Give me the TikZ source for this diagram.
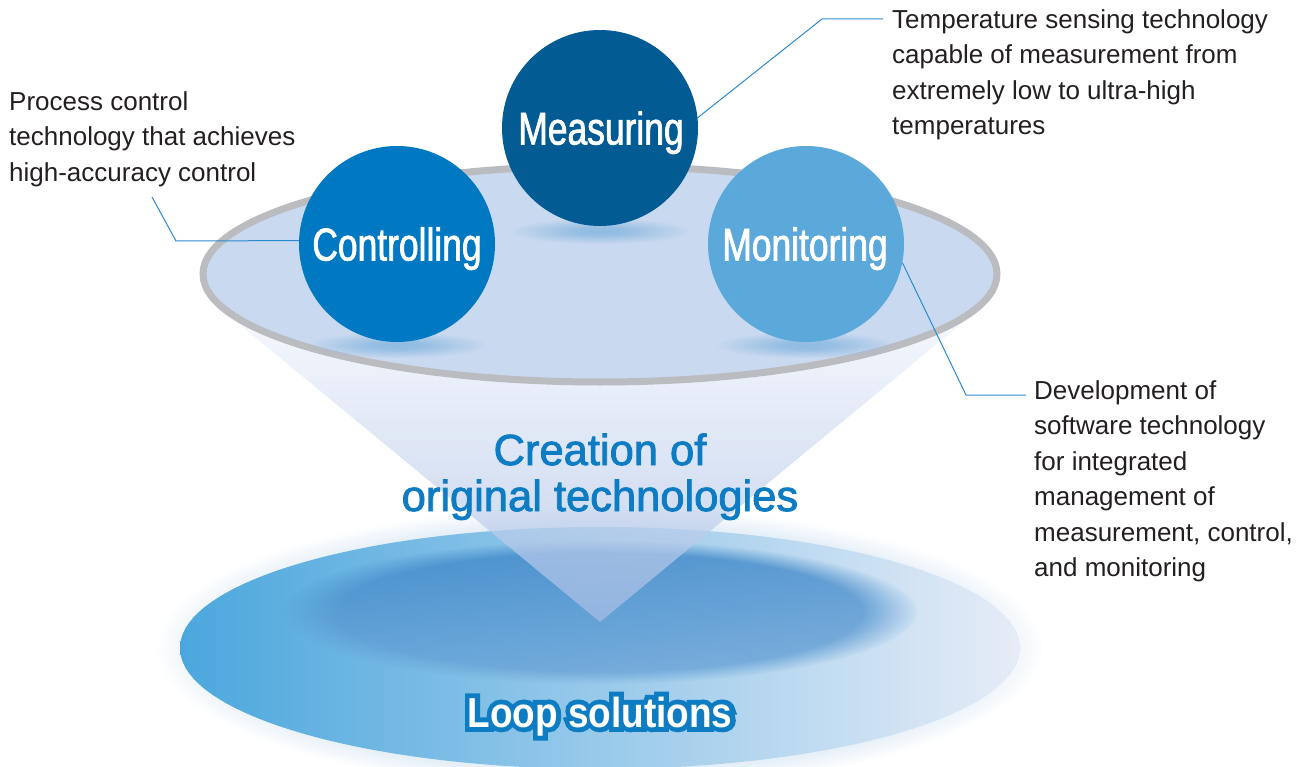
\documentclass[tikz,border=0pt]{standalone}
\usepackage{fontspec}
\setmainfont{Liberation Sans}
\newfontfamily\condfont[FakeStretch=0.77,FakeBold=1.5]{Liberation Sans}
\newfontfamily\titlefont[FakeBold=2]{Liberation Sans}
\newfontfamily\loopfont[FakeStretch=0.88]{Liberation Sans}
\newfontfamily\loopoutfont[FakeStretch=0.88,FakeBold=23]{Liberation Sans}
\usetikzlibrary{fadings}
\definecolor{meascol}{HTML}{035B94}
\definecolor{ctrlcol}{HTML}{0079C2}
\definecolor{monicol}{HTML}{5BA8DB}
\definecolor{upfill}{HTML}{C9D9EF}
\definecolor{ringcol}{HTML}{BBBCC0}
\definecolor{shadcol}{HTML}{8FBBE2}
\definecolor{titlecol}{HTML}{0D7CC3}
\definecolor{textcol}{HTML}{231F20}
\definecolor{conncol}{HTML}{2B8ACF}
\definecolor{glowcol}{HTML}{DCE9F5}
\definecolor{lowL}{HTML}{4BA7DD}
\definecolor{lowM}{HTML}{86B9E4}
\definecolor{lowR}{HTML}{E6ECF7}
\definecolor{innerT}{HTML}{3C86C8}
\definecolor{innerB}{HTML}{6FA7D9}
\definecolor{coneT}{HTML}{F3F6FC}
\definecolor{coneB}{HTML}{A6BDE4}
\pgfdeclareradialshading{glowshade}{\pgfpointorigin}{color(0bp)=(pgftransparent!0); color(22bp)=(pgftransparent!30); color(25bp)=(pgftransparent!100); color(50bp)=(pgftransparent!100)}
\pgfdeclarefading{glowfade}{\pgfuseshading{glowshade}}
\pgfdeclareradialshading{innershade}{\pgfpointorigin}{color(0bp)=(pgftransparent!0); color(20.5bp)=(pgftransparent!0); color(25bp)=(pgftransparent!100); color(50bp)=(pgftransparent!100)}
\pgfdeclarefading{innerfade}{\pgfuseshading{innershade}}
\pgfdeclareradialshading{shadshade}{\pgfpointorigin}{color(0bp)=(pgftransparent!0); color(8bp)=(pgftransparent!15); color(25bp)=(pgftransparent!100); color(50bp)=(pgftransparent!100)}
\pgfdeclarefading{shadfade}{\pgfuseshading{shadshade}}
\tikzset{
  circ/.style={circle, minimum size=196pt, inner sep=0pt},
  clabel/.style={text=white, font=\condfont\fontsize{46}{46}\selectfont, anchor=base, inner sep=0pt},
  body/.style={text=textcol, font=\fontsize{26}{35.5}\selectfont, align=left, anchor=north west, inner sep=0pt},
  conn/.style={draw=conncol, line width=1pt},
  shadowell/.style={fill=shadcol, path fading=shadfade},
  loopt/.style={font=\bfseries\fontsize{42}{42}\selectfont, anchor=base, inner sep=0pt},
}
\begin{document}
\begin{tikzpicture}[x=1pt,y=-1pt]
\useasboundingbox (0,0) rectangle (1308,767);
% lower disc with glow
\fill[glowcol, path fading=glowfade] (600,648) ellipse [x radius=444, y radius=142];
\shade[left color=lowL, middle color=lowM, right color=lowR] (600,648) ellipse [x radius=420, y radius=121];
\shade[top color=innerT, bottom color=innerB, path fading=innerfade, fill opacity=0.8] (600,612) ellipse [x radius=318, y radius=72];
% cone
\shade[top color=coneT, bottom color=coneB, fill opacity=0.72] (221,309) -- (979,309) -- (600,622) -- cycle;
% upper disc
\draw[ringcol, line width=7pt, fill=upfill] (600,274) ellipse [x radius=397, y radius=108];
% shadows
\fill[shadowell] (600,231) ellipse [x radius=90, y radius=13];
\fill[shadowell] (397,345) ellipse [x radius=90, y radius=13];
\fill[shadowell] (806,345) ellipse [x radius=90, y radius=13];
% circles
\node[circ, fill=meascol] (meas) at (600,128) {};
\node[circ, fill=ctrlcol] (ctrl) at (397,244) {};
\node[circ, fill=monicol] (moni) at (806,244) {};
\node[clabel] (measT) at (601,144.5) {Measuring};
\node[clabel] (ctrlT) at (397,260.5) {Controlling};
\node[clabel] (moniT) at (805,260.5) {Monitoring};
% connectors
\coordinate (c1a) at (176,241);
\coordinate (c1b) at (152,197);
\coordinate (m1a) at (822,19);
\coordinate (m1b) at (883,19);
\coordinate (n1a) at (966,395);
\coordinate (n1b) at (1026,395);
\draw[conn] (ctrl.178) -- (c1a) -- (c1b);
\draw[conn] (meas.6) -- (m1a) -- (m1b);
\draw[conn] (moni.-11) -- (n1a) -- (n1b);
% texts
\node[body] (ctrlD) at (9,91.4) {Process control\\technology that achieves\\high-accuracy control};
\node[body] (measD) at (892,9.4) {Temperature sensing technology\\capable of measurement from\\extremely low to ultra-high\\temperatures};
\node[body] (moniD) at (1034,380.4) {Development of\\software technology\\for integrated\\management of\\measurement, control,\\and monitoring};
\node[text=titlecol, font=\titlefont\fontsize{43.5}{46}\selectfont, align=center, anchor=north, inner sep=0pt] (title) at (600,433.3) {Creation of\\original technologies};
% loop solutions with outline
\node[loopt, text=titlecol] (loopout) at (600,727) {\loopoutfont Loop solutions};
\node[loopt, text=white] (loop) at (600,727) {\loopfont Loop solutions};
\end{tikzpicture}
\end{document}
